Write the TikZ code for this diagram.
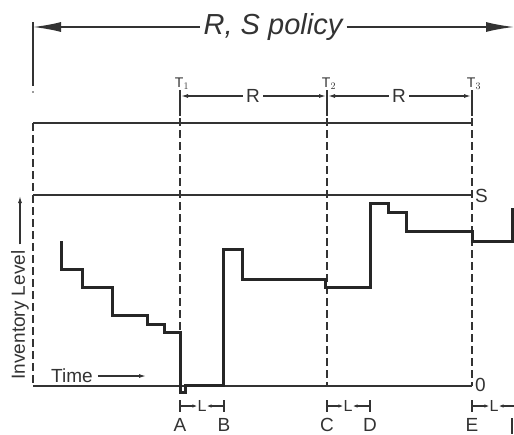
\documentclass[tikz,border=0pt]{standalone}
\usepackage{fontspec}
\setmainfont{Liberation Sans}
\usetikzlibrary{arrows.meta}
\begin{document}
\begin{tikzpicture}[x=1pt,y=-1pt,
  thinline/.style={line width=1.4pt,draw=black!80},
  dashline/.style={line width=1.4pt,draw=black!80,dash pattern=on 8pt off 4pt},
  bigarrow/.style={line width=1.6pt,draw=black!80,-{Latex[length=28pt,width=10pt]}},
  rarrow/.style={line width=1.2pt,draw=black!80,-{Latex[length=7pt,width=4pt]}},
  larrow/.style={line width=1.2pt,draw=black!80,-{Latex[length=5pt,width=3.5pt]}},
  lbl/.style={font=\fontsize{19}{19}\selectfont,text=black!80,inner sep=1pt},
  tlbl/.style={font=\fontsize{14}{14}\selectfont,text=black!80,inner sep=0pt},
  curve/.style={line width=3pt,draw=black!85,line join=miter}]
\clip (0,0) rectangle (514,434);
% top policy arrow
\coordinate (PL) at (33,27);
\coordinate (PR) at (514,27);
\node[lbl,font=\fontsize{29}{29}\selectfont\itshape,fill=white,inner sep=4pt] (pol) at (273,27) {R, S policy};
\draw[bigarrow] (pol.west) -- (PL);
\draw[bigarrow] (pol.east) -- (PR);
\coordinate (PT1) at (33,22);
\coordinate (PT2) at (33,86);
\draw[thinline] (PT1) -- (PT2);
\fill[black!80] (33,92) circle (0.9pt);
% T ticks
\foreach \n/\x in {1/180,2/327,3/472}{
  \coordinate (Tt\n) at (\x,90);
  \coordinate (Tb\n) at (\x,116);
  \draw[thinline] (Tt\n) -- (Tb\n);
  \node[tlbl,anchor=south] (Tl\n) at (\x+2,90) {T$_{\n}$};
}
% R dimension arrows
\node[lbl,fill=white,inner sep=3pt] (R1) at (253,96) {R};
\node[lbl,fill=white,inner sep=3pt] (R2) at (399,96) {R};
\draw[rarrow] (R1.west) -- (181,96);
\draw[rarrow] (R1.east) -- (326,96);
\draw[rarrow] (R2.west) -- (328,96);
\draw[rarrow] (R2.east) -- (471,96);
% box
\coordinate (BTL) at (33,123);
\coordinate (BTR) at (472,123);
\coordinate (BBL) at (33,386);
\coordinate (BBR) at (472,386);
\draw[thinline] (BTL) -- (BTR);
\draw[thinline] (BBL) -- (BBR);
\draw[dashline] (BTL) -- (BBL);
\draw[dashline] (Tb3) ++(0,2) -- (BBR);
\draw[dashline] (Tb1) ++(0,2) -- (180,386);
\draw[dashline] (Tb2) ++(0,2) -- (327,386);
% S line
\coordinate (SL) at (33,195);
\coordinate (SR) at (472,195);
\draw[thinline] (SL) -- (SR);
\node[lbl,anchor=west] (S) at (474,196) {S};
\node[lbl,anchor=west] (zero) at (474,385) {0};
% axis labels
\node[lbl,rotate=90] (inv) at (20,315) {Inventory Level};
\coordinate (invtip) at (20,196);
\draw[rarrow] (inv.east) ++(0,-5) -- (invtip);
\node[lbl] (time) at (72,376) {Time};
\coordinate (timetip) at (146,376);
\draw[rarrow] (time.east) ++(4,0) -- (timetip);
% inventory curve
\draw[curve] (61,241) -- (61,269) -- (82,269) -- (82,287) -- (112,287) -- (112,315)
  -- (147,315) -- (147,324) -- (164,324) -- (164,332) -- (180,332) -- (180,392)
  -- (185,392) -- (185,385) -- (223,385) -- (223,249) -- (242,249) -- (242,279)
  -- (325,279) -- (325,287) -- (370,287) -- (370,203) -- (388,203) -- (388,212)
  -- (406,212) -- (406,231) -- (472,231) -- (472,241) -- (512,241) -- (512,208);
% L dimensions
\foreach \a/\b/\m/\n in {180/224/202/1,327/370/348/2,472/516/494/3}{
  \draw[line width=1.4pt,draw=black!80] (\a,400) -- (\a,412);
  \draw[line width=2pt,draw=black!80] (\b,400) -- (\b,412);
  \node[tlbl,font=\fontsize{16}{16}\selectfont] (L\n) at (\m,406) {L};
  \draw[larrow] (\a,406) -- (L\n.west);
  \draw[larrow] (\b,406) -- (L\n.east);
}
\foreach \t/\x in {A/180,B/224,C/327,D/370,E/472}{
  \node[lbl,inner sep=0pt,anchor=base] (lab\t) at (\x,431) {\t};
}
% stem of the next, cut-off label at the right edge
\coordinate (Fa) at (512,418);
\coordinate (Fb) at (512,434);
\draw[line width=2pt,draw=black!80] (Fa) -- (Fb);
\end{tikzpicture}
\end{document}
